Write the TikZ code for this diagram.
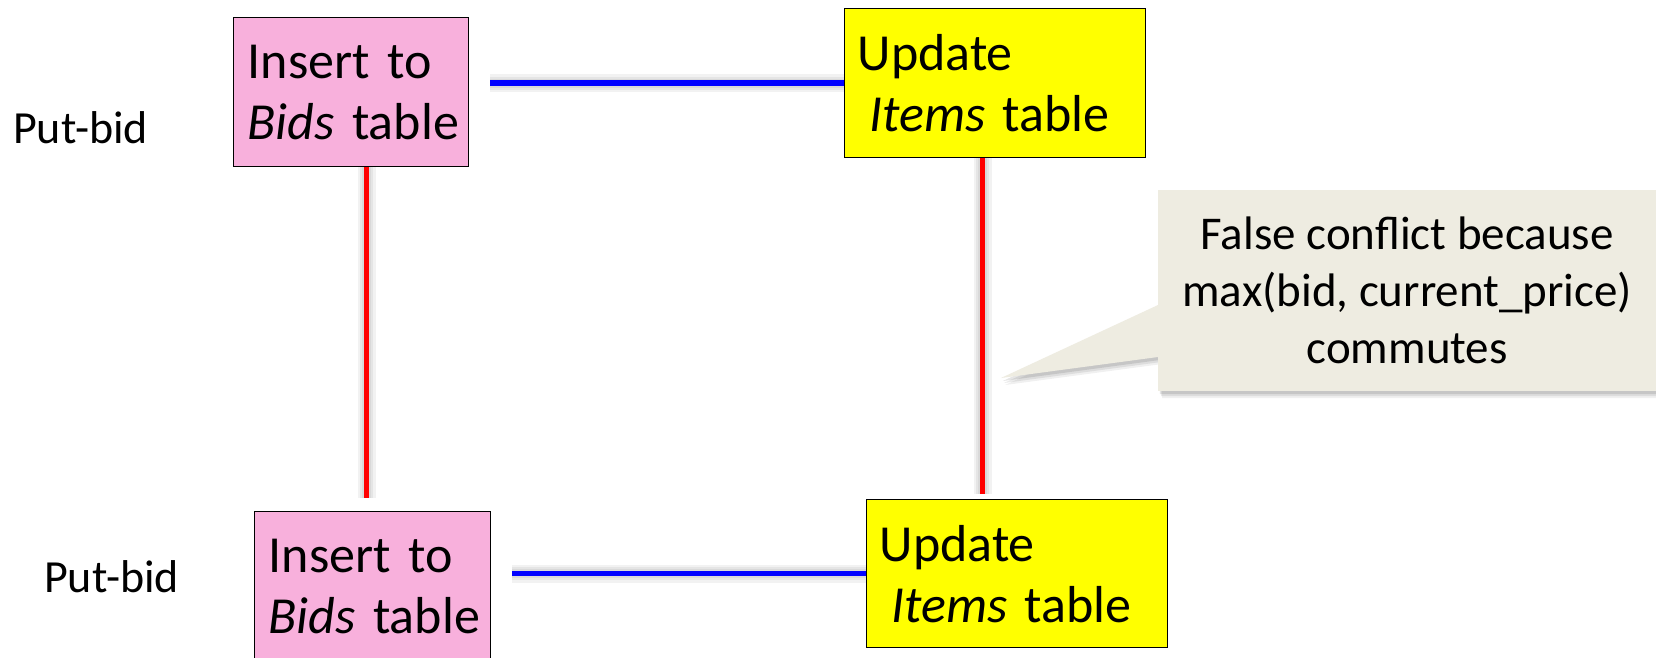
\documentclass[tikz,border=0pt]{standalone}
\usepackage{fontspec}
\setmainfont{Carlito}
\usetikzlibrary{calc}
\definecolor{pinkfill}{HTML}{F8B0DC}
\definecolor{opyellow}{HTML}{FFFF00}
\definecolor{notefill}{HTML}{EEECE1}
\definecolor{wireblue}{HTML}{0000FF}
\definecolor{wirered}{HTML}{FF0000}
\begin{document}
\begin{tikzpicture}[x=1pt,y=-1pt,
  opbox/.style={draw=black, line width=1.3pt, rectangle, anchor=north west,
    inner xsep=14pt, inner ysep=0pt, align=left,
    font=\fontsize{52}{61}\selectfont},
  sidelabel/.style={anchor=base west, inner sep=0pt, font=\fontsize{46}{55}\selectfont},
  blueline/.style={draw=wireblue, line width=5.5pt},
  redline/.style={draw=wirered, line width=5.5pt},
  wireshadow/.style={draw=black, opacity=0.05, line width=#1},
  notebox/.style={fill=notefill, anchor=north west, minimum width=498pt,
    minimum height=201pt, inner sep=0pt, align=center,
    font=\fontsize{47}{57}\selectfont}
]
\clip (0,0) rectangle (1656,658);
\fill[white] (0,0) rectangle (1656,658);

% operation boxes
\node[opbox, fill=pinkfill, text width=207pt, minimum height=149pt] (p1) at (233,17)
  {\mbox{Insert to}\\\mbox{\textit{Bids} table}};
\node[opbox, fill=opyellow, inner xsep=13pt, text width=275pt, minimum height=149pt] (y1) at (844,8)
  {\mbox{Update}\\\mbox{\hspace*{0.226em}\textit{Items} table}};
\node[opbox, fill=pinkfill, text width=208pt, minimum height=149pt] (p2) at (254,511)
  {\mbox{Insert to}\\\mbox{\textit{Bids} table}};
\node[opbox, fill=opyellow, inner xsep=13pt, text width=275pt, minimum height=148pt] (y2) at (866,499)
  {\mbox{Update}\\\mbox{\hspace*{0.226em}\textit{Items} table}};

% transaction labels
\node[sidelabel] (l1) at (13,143) {Put-bid};
\node[sidelabel] (l2) at (44,592) {Put-bid};

% conflict edges, each with a soft drop shadow
\foreach \w in {18pt,13pt,9pt}{
  \begin{scope}[shift={(1,3)}]
    \draw[wireshadow=\w, shorten <=21pt] (p1.east |- y1.west) -- (y1.west);
    \draw[wireshadow=\w, shorten <=21pt] (p2.east |- y2.west) -- (y2.west);
    \draw[wireshadow=\w, shorten >=13pt] ([xshift=15.5pt]p1.south) -- ([xshift=15.5pt]p1.south |- p2.north);
    \draw[wireshadow=\w, shorten >=5pt] ([xshift=-12.5pt]y1.south) -- ([xshift=-12.5pt]y1.south |- y2.north);
  \end{scope}
}
\draw[blueline, shorten <=21pt] (p1.east |- y1.west) -- (y1.west);
\draw[blueline, shorten <=21pt] (p2.east |- y2.west) -- (y2.west);
\draw[redline, shorten >=13pt] ([xshift=15.5pt]p1.south) -- ([xshift=15.5pt]p1.south |- p2.north);
\draw[redline, shorten >=5pt] ([xshift=-12.5pt]y1.south) -- ([xshift=-12.5pt]y1.south |- y2.north);

% callout with soft shadow
\coordinate (tip) at (1001,378);
\foreach \d/\o in {7/0.06,5/0.08,3/0.10}{
  \fill[black, opacity=\o] (1158+\d*0.6,190+\d) -- (1700,190+\d) -- (1700,391+\d)
    -- (1158+\d*0.6,391+\d) -- (1158+\d*0.6,357+\d) -- (1001+\d*0.6,378+\d)
    -- (1158+\d*0.6,305+\d) -- cycle;
}
\node[notebox] (note) at (1158,190)
  {False conflict because\\max(bid, current\_price)\\commutes};
\fill[notefill] ($(note.north west)+(0,115)$) -- (tip) -- ($(note.north west)+(0,167)$) -- cycle;
\end{tikzpicture}
\end{document}
